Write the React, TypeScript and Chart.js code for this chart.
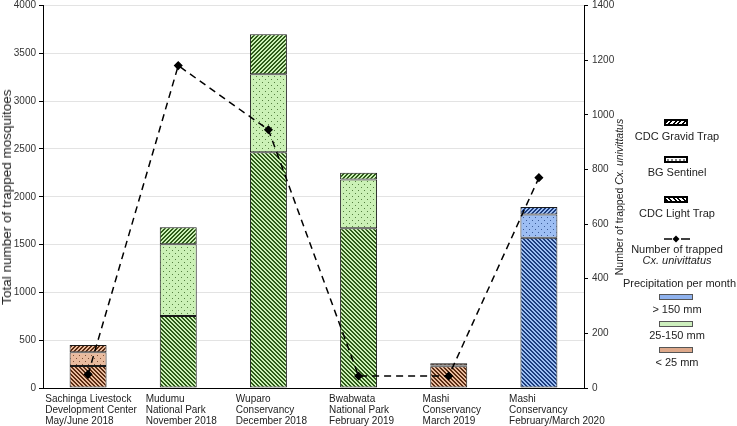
import React, { useEffect, useRef } from 'react';
import { Chart, registerables } from 'chart.js';

Chart.register(...registerables);

const categories: string[][] = [
  ['Sachinga Livestock', 'Development Center', 'May/June 2018'],
  ['Mudumu', 'National Park', 'November 2018'],
  ['Wuparo', 'Conservancy', 'December 2018'],
  ['Bwabwata', 'National Park', 'February 2019'],
  ['Mashi', 'Conservancy', 'March 2019'],
  ['Mashi', 'Conservancy', 'February/March 2020'],
];
const precipitation = ['low', 'mid', 'mid', 'mid', 'low', 'high'];
const cdcLightTrap = [230, 752, 2465, 1670, 228, 1570];
const bgSentinel = [143, 750, 815, 510, 8, 244];
const cdcGravidTrap = [77, 178, 420, 70, 22, 79];
const cxUnivittatus = [50, 1180, 945, 44, 44, 770];
const leftMax = 4000;
const leftStep = 500;
const rightMax = 1400;
const rightStep = 200;

const FONT = '"Liberation Sans", Arial, sans-serif';
const labelNudge = [0, 0, 0, 0, 0, 15];

const palette: Record<string, { bg: string; fg: string; swatch: string }> = {
  low: { bg: '#E9BB9E', fg: '#5A2C12', swatch: '#DDA88A' },
  mid: { bg: '#CBF1B6', fg: '#2D5A18', swatch: '#CDEFBD' },
  high: { bg: '#9DBEF3', fg: '#1C3C7C', swatch: '#8FB2EE' },
};

function makePattern(bg: string, fg: string, kind: 'back' | 'fwd' | 'dots'): CanvasPattern | string {
  const c = document.createElement('canvas');
  const n = kind === 'dots' ? 6 : 4;
  c.width = n;
  c.height = n;
  const g = c.getContext('2d');
  if (!g) return bg;
  g.fillStyle = bg;
  g.fillRect(0, 0, n, n);
  g.fillStyle = fg;
  if (kind === 'dots') {
    g.globalAlpha = 0.75;
    g.fillRect(1, 1, 1, 1);
    g.fillRect(4, 4, 1, 1);
  } else {
    for (let x = 0; x < n; x++) {
      for (let y = 0; y < n; y++) {
        const v = kind === 'back' ? (((x - y) % n) + n) % n : (x + y) % n;
        if (v < 2) g.fillRect(x, y, 1, 1);
      }
    }
  }
  return g.createPattern(c, 'repeat') || bg;
}

export default function App() {
  const ref = useRef<HTMLCanvasElement>(null);

  useEffect(() => {
    const canvas = ref.current;
    if (!canvas) return;
    const pat = (kind: 'back' | 'fwd' | 'dots') =>
      precipitation.map((p) => makePattern(palette[p].bg, palette[p].fg, kind));

    const xLabelPlugin = {
      id: 'xLabels',
      afterDraw(chart: any) {
        const ctx = chart.ctx;
        const xs = chart.scales.x;
        const base = chart.chartArea.bottom;
        ctx.save();
        ctx.font = `10px ${FONT}`;
        ctx.fillStyle = '#222';
        ctx.textAlign = 'left';
        ctx.textBaseline = 'middle';
        categories.forEach((lines, i) => {
          const cx = xs.getPixelForValue(i);
          const w = Math.max(...lines.map((l) => ctx.measureText(l).width));
          const sx = cx - w / 2 + 3 + labelNudge[i];
          lines.forEach((l, k) => ctx.fillText(l, sx, base + 11 + k * 11));
        });
        ctx.restore();
      },
    };

    const barCommon = {
      type: 'bar' as const,
      yAxisID: 'y',
      borderColor: '#1a1a1a',
      borderWidth: 1,
      borderSkipped: false as const,
      barPercentage: 0.41,
      categoryPercentage: 1,
      order: 2,
    };

    const noPad = (s: any) => {
      s.paddingTop = 0;
      s.paddingBottom = 0;
    };

    const chart = new Chart(canvas, {
      type: 'bar',
      data: {
        labels: categories.map((c) => c.join(' ')),
        datasets: [
          {
            ...barCommon,
            label: 'CDC Light Trap',
            data: cdcLightTrap,
            backgroundColor: pat('back') as any,
          },
          {
            ...barCommon,
            label: 'BG Sentinel',
            data: bgSentinel,
            backgroundColor: pat('dots') as any,
          },
          {
            ...barCommon,
            label: 'CDC Gravid Trap',
            data: cdcGravidTrap,
            backgroundColor: pat('fwd') as any,
          },
          {
            type: 'line' as const,
            label: 'Number of trapped Cx. univittatus',
            data: cxUnivittatus,
            yAxisID: 'y2',
            borderColor: '#000',
            borderWidth: 1.5,
            borderDash: [7, 5],
            pointStyle: 'rectRot',
            pointRadius: 3.5,
            pointBackgroundColor: '#000',
            pointBorderColor: '#000',
            tension: 0,
            fill: false,
            order: 0,
          } as any,
        ],
      },
      options: {
        responsive: false,
        animation: false,
        devicePixelRatio: 1,
        layout: { padding: { left: 0, right: 123, top: 5, bottom: 0 } },
        plugins: {
          legend: { display: false },
          tooltip: { enabled: false },
          title: { display: false },
        },
        scales: {
          x: {
            stacked: true,
            grid: { display: false },
            border: { display: true, color: '#000', width: 1 },
            ticks: { display: false },
            afterFit: (s: any) => {
              s.height = 38;
            },
          },
          y: {
            type: 'linear',
            position: 'left',
            stacked: true,
            min: 0,
            max: leftMax,
            ticks: {
              stepSize: leftStep,
              font: { family: FONT, size: 10 },
              color: '#333',
              padding: 3,
              callback: (v: any) => String(v),
            },
            grid: {
              color: '#e3e3e3',
              lineWidth: 1,
              drawTicks: true,
              tickLength: 4,
              tickColor: '#000',
            },
            border: { display: true, color: '#000', width: 1 },
            afterFit: (s: any) => {
              s.width = 43;
              noPad(s);
            },
          },
          y2: {
            type: 'linear',
            position: 'right',
            stacked: false,
            min: 0,
            max: rightMax,
            ticks: {
              stepSize: rightStep,
              font: { family: FONT, size: 10 },
              color: '#333',
              padding: 4,
              callback: (v: any) => String(v),
            },
            grid: {
              drawOnChartArea: false,
              drawTicks: true,
              tickLength: 4,
              tickColor: '#000',
            },
            border: { display: true, color: '#000', width: 1 },
            afterFit: (s: any) => {
              s.width = 30;
              noPad(s);
            },
          },
        },
      },
      plugins: [xLabelPlugin],
    });
    return () => chart.destroy();
  }, []);

  const text = (cx: number, y: number, content: React.ReactNode, w = 130) => (
    <div
      style={{
        position: 'absolute',
        left: cx - w / 2,
        top: y - 7,
        width: w,
        textAlign: 'center',
        fontSize: 11,
        lineHeight: '14px',
        whiteSpace: 'nowrap',
      }}
    >
      {content}
    </div>
  );

  const trapSwatch = (top: number, bg: string, size?: string) => (
    <div
      style={{
        position: 'absolute',
        left: 664,
        top,
        width: 20,
        height: 3,
        border: '2px solid #000',
        background: bg,
        backgroundSize: size,
      }}
    />
  );

  const precSwatch = (top: number, color: string) => (
    <div
      style={{
        position: 'absolute',
        left: 659,
        top,
        width: 32,
        height: 4,
        border: '1.5px solid #555',
        background: color,
      }}
    />
  );

  const vTitle = (x: number, size: number, content: React.ReactNode) => (
    <div
      style={{
        position: 'absolute',
        left: x,
        top: 196.5,
        transform: 'translate(-50%, -50%) rotate(-90deg)',
        whiteSpace: 'nowrap',
        fontSize: size,
        lineHeight: `${Math.round(size * 1.15)}px`,
      }}
    >
      {content}
    </div>
  );

  return (
    <div
      style={{
        position: 'fixed',
        left: 0,
        top: 0,
        width: 737,
        height: 426,
        background: '#fff',
        fontFamily: FONT,
        color: '#222',
        overflow: 'hidden',
      }}
    >
      <canvas ref={ref} width={737} height={426} style={{ position: 'absolute', left: 0, top: 0, width: 737, height: 426 }} />
      {vTitle(7, 13.5, 'Total number of trapped mosquitoes')}
      {vTitle(619, 10.5, (
        <>
          Number of trapped <i>Cx. univittatus</i>
        </>
      ))}

      {trapSwatch(119, 'repeating-linear-gradient(135deg, #000 0 1.6px, #fff 1.6px 3.2px)')}
      {text(677, 136, 'CDC Gravid Trap')}
      {trapSwatch(156, 'radial-gradient(circle, #000 0.5px, #fff 0.9px)', '4px 4px')}
      {text(677, 172, 'BG Sentinel')}
      {trapSwatch(196, 'repeating-linear-gradient(45deg, #000 0 1.6px, #fff 1.6px 3.2px)')}
      {text(677, 213, 'CDC Light Trap')}
      <svg style={{ position: 'absolute', left: 662, top: 234 }} width={30} height={10}>
        <line x1={2} y1={5} x2={10} y2={5} stroke="#000" strokeWidth={1.5} />
        <line x1={19} y1={5} x2={28} y2={5} stroke="#000" strokeWidth={1.5} />
        <polygon points="14,1.5 17.5,5 14,8.5 10.5,5" fill="#000" />
      </svg>
      {text(677, 249, 'Number of trapped')}
      {text(677, 260, <i>Cx. univittatus</i>)}
      {text(681, 283, 'Precipitation per month:', 140)}
      {precSwatch(294, palette.high.swatch)}
      {text(677, 309, '> 150 mm')}
      {precSwatch(321, palette.mid.swatch)}
      {text(677, 335, '25-150 mm')}
      {precSwatch(347, palette.low.swatch)}
      {text(677, 362, '< 25 mm')}
    </div>
  );
}
